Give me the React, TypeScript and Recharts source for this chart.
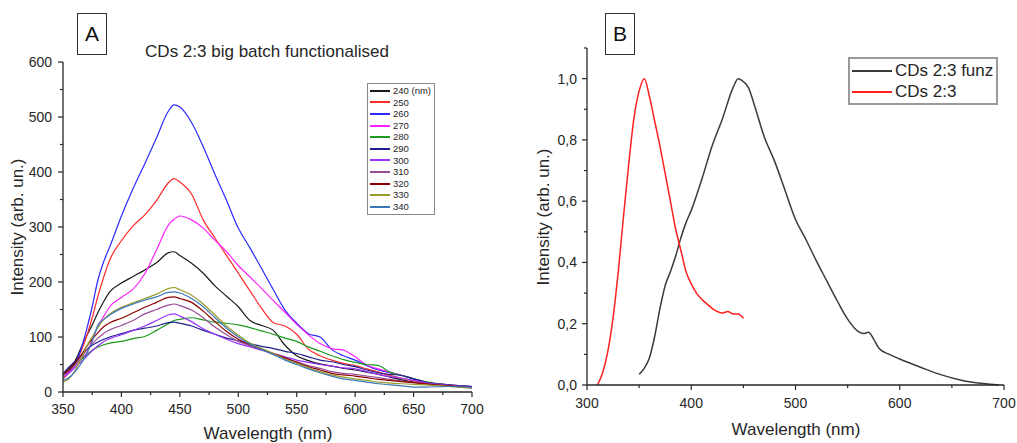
import { Legend, Line, LineChart, XAxis, YAxis } from "recharts";

const FONT = '"Liberation Sans", Arial, Helvetica, sans-serif';
const INK = "#262626";

// ---- panel A: emission spectra at different excitation wavelengths ----
const WL_A = [
  350, 355, 360, 365, 370, 375, 380, 385, 390, 400, 410, 420, 430, 440, 445, 450, 460, 470, 480,
  490, 500, 510, 520, 530, 540, 550, 560, 570, 580, 590, 600, 610, 620, 630, 640, 650, 660, 680, 700,
];

const EX_240 = [33, 42, 55, 78, 101, 122, 145, 165, 182, 198, 210, 222, 235, 253, 255, 248, 234, 216, 193, 174, 155, 130, 121, 112, 85, 66, 57, 51, 47, 43, 40, 36, 32, 27, 22, 18, 15, 11, 8];
const EX_250 = [24, 35, 50, 72, 100, 135, 175, 210, 240, 275, 302, 322, 348, 380, 388, 382, 360, 313, 280, 248, 216, 184, 152, 126, 120, 105, 78, 66, 58, 52, 48, 42, 36, 30, 25, 20, 16, 12, 9];
const EX_260 = [30, 38, 50, 75, 112, 155, 205, 238, 264, 320, 370, 415, 462, 510, 522, 518, 490, 446, 396, 348, 298, 262, 224, 186, 149, 125, 106, 100, 77, 66, 58, 48, 40, 35, 30, 24, 18, 13, 10];
const EX_270 = [30, 38, 48, 60, 70, 95, 120, 138, 155, 172, 187, 215, 258, 303, 314, 320, 313, 298, 276, 255, 230, 209, 188, 166, 145, 123, 104, 88, 79, 76, 64, 49, 42, 36, 30, 24, 18, 13, 10];
const EX_280 = [33, 40, 50, 58, 67, 76, 82, 86, 89, 92, 97, 101, 112, 124, 130, 132, 135, 131, 127, 125, 122, 117, 111, 105, 98, 92, 82, 74, 66, 59, 54, 50, 48, 36, 30, 24, 19, 13, 10];
const EX_290 = [33, 45, 55, 65, 76, 85, 91, 96, 100, 106, 112, 116, 120, 126, 127, 125, 120, 112, 105, 98, 93, 88, 83, 79, 74, 70, 64, 58, 55, 50, 46, 40, 35, 32, 30, 24, 18, 13, 10];
const EX_300 = [27, 34, 44, 54, 64, 75, 84, 92, 97, 104, 112, 120, 130, 140, 142, 138, 128, 115, 105, 96, 88, 82, 76, 70, 64, 58, 54, 50, 47, 44, 42, 37, 32, 28, 25, 21, 17, 12, 9];
const EX_310 = [30, 38, 48, 60, 76, 88, 98, 107, 113, 121, 130, 142, 150, 158, 160, 157, 149, 135, 118, 104, 92, 84, 77, 70, 62, 55, 48, 43, 37, 34, 32, 29, 26, 23, 20, 17, 15, 11, 8];
const EX_320 = [33, 40, 52, 65, 82, 96, 108, 119, 126, 134, 144, 154, 163, 172, 173, 170, 163, 147, 128, 110, 96, 86, 78, 70, 62, 54, 46, 40, 34, 31, 29, 26, 23, 21, 19, 17, 15, 11, 8];
const EX_330 = [18, 24, 38, 58, 82, 100, 118, 132, 142, 154, 162, 170, 178, 188, 190, 186, 176, 160, 140, 120, 103, 89, 79, 70, 60, 52, 44, 37, 31, 27, 24, 21, 18, 16, 15, 14, 13, 10, 7];
const EX_340 = [21, 26, 36, 50, 68, 92, 122, 132, 140, 152, 160, 167, 173, 181, 182, 180, 170, 155, 135, 116, 100, 87, 77, 68, 58, 50, 42, 35, 29, 24, 21, 18, 15, 13, 11, 9, 9, 10, 8];

const SERIES_A = [
  { key: "e240", name: "240 (nm)", color: "#1a1a1a", values: EX_240 },
  { key: "e250", name: "250", color: "#ff2a2a", values: EX_250 },
  { key: "e260", name: "260", color: "#2a2aff", values: EX_260 },
  { key: "e270", name: "270", color: "#ff22ff", values: EX_270 },
  { key: "e280", name: "280", color: "#1f9a1f", values: EX_280 },
  { key: "e290", name: "290", color: "#1f1f8c", values: EX_290 },
  { key: "e300", name: "300", color: "#9a33ff", values: EX_300 },
  { key: "e310", name: "310", color: "#994d99", values: EX_310 },
  { key: "e320", name: "320", color: "#8c0000", values: EX_320 },
  { key: "e330", name: "330", color: "#9a9a2a", values: EX_330 },
  { key: "e340", name: "340", color: "#3a78b8", values: EX_340 },
];

const X_TICKS_A = [350, 375, 400, 425, 450, 475, 500, 525, 550, 575, 600, 625, 650, 675, 700];
const Y_TICKS_A = [0, 50, 100, 150, 200, 250, 300, 350, 400, 450, 500, 550, 600];

// ---- panel B: normalised spectra ----
const WL_FUNZ = [350, 355, 360, 365, 370, 375, 380, 385, 390, 395, 400, 410, 420, 430, 440, 445, 450, 455, 460, 470, 480, 490, 500, 510, 520, 530, 540, 550, 560, 565, 570, 575, 580, 590, 600, 620, 640, 660, 680, 695];
const I_FUNZ = [0.035, 0.055, 0.09, 0.16, 0.25, 0.325, 0.37, 0.42, 0.48, 0.53, 0.57, 0.67, 0.78, 0.87, 0.97, 1.0, 0.99, 0.97, 0.92, 0.81, 0.73, 0.635, 0.54, 0.475, 0.405, 0.34, 0.275, 0.215, 0.175, 0.168, 0.172, 0.15, 0.12, 0.1, 0.085, 0.058, 0.033, 0.015, 0.005, 0];
const WL_PLAIN = [310, 315, 320, 325, 330, 335, 340, 345, 350, 355, 360, 365, 370, 375, 380, 385, 390, 395, 400, 405, 410, 415, 420, 430, 435, 440, 445, 450];
const I_PLAIN = [0, 0.04, 0.11, 0.22, 0.37, 0.55, 0.72, 0.87, 0.96, 1.0, 0.94, 0.86, 0.78, 0.69, 0.6, 0.51, 0.44, 0.37, 0.33, 0.3, 0.28, 0.265, 0.25, 0.235, 0.24, 0.232, 0.232, 0.218];
const LEGEND_ORDER_B = ["CDs 2:3 funz", "CDs 2:3"];

const X_TICKS_B = [300, 350, 400, 450, 500, 550, 600, 650, 700];
const Y_TICKS_B = [0, 0.1, 0.2, 0.3, 0.4, 0.5, 0.6, 0.7, 0.8, 0.9, 1.0, 1.1];

const rowsA = WL_A.map((wl, i) => {
  const row: Record<string, number> = { wl };
  for (const s of SERIES_A) row[s.key] = s.values[i];
  return row;
});
const funzRows = WL_FUNZ.map((wl, i) => ({ wl, v: I_FUNZ[i] }));
const plainRows = WL_PLAIN.map((wl, i) => ({ wl, v: I_PLAIN[i] }));

function xTick(isMajor: (v: number) => boolean, labelDy: number) {
  return (props: any) => {
    const { x, y, payload } = props;
    const major = isMajor(payload.value);
    return (
      <g>
        <line x1={x} x2={x} y1={y} y2={y + (major ? 5 : 3)} stroke={INK} strokeWidth={1.2} />
        {major && (
          <text x={x} y={y + labelDy} textAnchor="middle" fontSize={14} fill={INK} fontFamily={FONT}>
            {payload.value}
          </text>
        )}
      </g>
    );
  };
}

function yTick(isMajor: (v: number) => boolean, fmt: (v: number) => string, gap: number) {
  return (props: any) => {
    const { x, y, payload } = props;
    const major = isMajor(payload.value);
    return (
      <g>
        <line x1={x - (major ? 5 : 3)} x2={x} y1={y} y2={y} stroke={INK} strokeWidth={1.2} />
        {major && (
          <text x={x - gap} y={y + 5} textAnchor="end" fontSize={14} fill={INK} fontFamily={FONT}>
            {fmt(payload.value)}
          </text>
        )}
      </g>
    );
  };
}

function legendBox(opts: {
  fontSize: number;
  rowH: number;
  lineW: number;
  border: string;
  pad: number;
  order?: string[];
}) {
  return (props: any) => {
    let items = [...((props.payload ?? []) as any[])];
    if (opts.order) {
      const order = opts.order;
      items.sort((a, b) => order.indexOf(a.value) - order.indexOf(b.value));
    }
    return (
      <div
        style={{
          border: opts.border,
          padding: `${opts.pad}px 3px ${opts.pad}px 2px`,
          background: "#fff",
          fontFamily: FONT,
          fontSize: opts.fontSize,
          color: INK,
          lineHeight: `${opts.rowH}px`,
          whiteSpace: "nowrap",
        }}
      >
        {items.map((it) => (
          <div key={it.value} style={{ display: "flex", alignItems: "center", height: opts.rowH }}>
            <span style={{ display: "inline-block", width: opts.lineW, height: 0, borderTop: `2px solid ${it.color}`, marginRight: 3 }} />
            <span>{it.value}</span>
          </div>
        ))}
      </div>
    );
  };
}

const labelStyle: React.CSSProperties = {
  position: "absolute",
  fontFamily: FONT,
  color: INK,
  whiteSpace: "nowrap",
};

function PanelBox({ left, letter }: { left: number; letter: string }) {
  return (
    <div
      style={{
        position: "absolute",
        left,
        top: 13,
        width: 28,
        height: 40,
        border: "1px solid #333",
        fontFamily: FONT,
        fontSize: 21,
        lineHeight: "40px",
        textAlign: "center",
        color: "#111",
      }}
    >
      {letter}
    </div>
  );
}

export default function App() {
  return (
    <div style={{ position: "absolute", left: 0, top: 0, width: 1017, height: 443, background: "#fff", overflow: "hidden" }}>
      {/* Panel A */}
      <div style={{ position: "absolute", left: 0, top: 0 }}>
        <LineChart width={500} height={443} data={rowsA} margin={{ top: 62, right: 28, left: 0, bottom: 0 }}>
          <XAxis
            type="number"
            dataKey="wl"
            domain={[350, 700]}
            ticks={X_TICKS_A}
            interval={0}
            height={51}
            tickSize={0}
            tickMargin={0}
            tickLine={false}
            axisLine={{ stroke: INK, strokeWidth: 1.3 }}
            tick={xTick((v) => v % 50 === 0, 22)}
            allowDataOverflow
          />
          <YAxis
            type="number"
            domain={[0, 600]}
            ticks={Y_TICKS_A}
            interval={0}
            width={63}
            tickSize={0}
            tickMargin={0}
            tickLine={false}
            axisLine={{ stroke: INK, strokeWidth: 1.3 }}
            tick={yTick((v) => v % 100 === 0, (v) => String(v), 11)}
          />
          <Legend
            layout="vertical"
            align="center"
            verticalAlign="middle"
            wrapperStyle={{ position: "absolute", left: 367, top: 83, width: "auto" }}
            content={legendBox({ fontSize: 9.5, rowH: 11.6, lineW: 20, border: "1.5px solid #8a8a8a", pad: 1 })}
          />
          {SERIES_A.map((s) => (
            <Line
              key={s.key}
              type="monotone"
              dataKey={s.key}
              name={s.name}
              stroke={s.color}
              strokeWidth={1.2}
              dot={false}
              isAnimationActive={false}
            />
          ))}
        </LineChart>
        <PanelBox left={77} letter="A" />
        <div style={{ ...labelStyle, left: 267, top: 52, fontSize: 17, transform: "translate(-50%, -50%)" }}>
          CDs 2:3 big batch functionalised
        </div>
        <div style={{ ...labelStyle, left: 268, top: 434, fontSize: 17, transform: "translate(-50%, -50%)" }}>
          Wavelength (nm)
        </div>
        <div style={{ ...labelStyle, left: 18, top: 227, fontSize: 17, transform: "translate(-50%, -50%) rotate(-90deg)" }}>
          Intensity (arb. un.)
        </div>
      </div>

      {/* Panel B */}
      <div style={{ position: "absolute", left: 500, top: 0 }}>
        <LineChart width={517} height={443} margin={{ top: 48, right: 13, left: 0, bottom: 0 }}>
          <XAxis
            type="number"
            dataKey="wl"
            domain={[300, 700]}
            ticks={X_TICKS_B}
            interval={0}
            height={58}
            tickSize={0}
            tickMargin={0}
            tickLine={false}
            axisLine={{ stroke: INK, strokeWidth: 1.3 }}
            tick={xTick((v) => v % 100 === 0, 23)}
            allowDataOverflow
          />
          <YAxis
            type="number"
            domain={[0, 1.1]}
            ticks={Y_TICKS_B}
            interval={0}
            width={87}
            tickSize={0}
            tickMargin={0}
            tickLine={false}
            axisLine={{ stroke: INK, strokeWidth: 1.3 }}
            tick={yTick(
              (v) => Math.round(v * 10) % 2 === 0 && v < 1.05,
              (v) => v.toFixed(1).replace(".", ","),
              10
            )}
          />
          <Legend
            layout="vertical"
            align="center"
            verticalAlign="middle"
            wrapperStyle={{ position: "absolute", left: 348, top: 57, width: "auto" }}
            content={legendBox({ fontSize: 17, rowH: 21, lineW: 40, border: "2px solid #9a9a9a", pad: 1, order: LEGEND_ORDER_B })}
          />
          <Line
            data={funzRows}
            type="monotone"
            dataKey="v"
            name="CDs 2:3 funz"
            stroke="#3a3a3a"
            strokeWidth={1.5}
            dot={false}
            isAnimationActive={false}
          />
          <Line
            data={plainRows}
            type="monotone"
            dataKey="v"
            name="CDs 2:3"
            stroke="#ff2020"
            strokeWidth={1.5}
            dot={false}
            isAnimationActive={false}
          />
        </LineChart>
        <PanelBox left={105} letter="B" />
        <div style={{ ...labelStyle, left: 296, top: 430, fontSize: 17, transform: "translate(-50%, -50%)" }}>
          Wavelength (nm)
        </div>
        <div style={{ ...labelStyle, left: 44, top: 217, fontSize: 17, transform: "translate(-50%, -50%) rotate(-90deg)" }}>
          Intensity (arb. un.)
        </div>
      </div>
    </div>
  );
}
